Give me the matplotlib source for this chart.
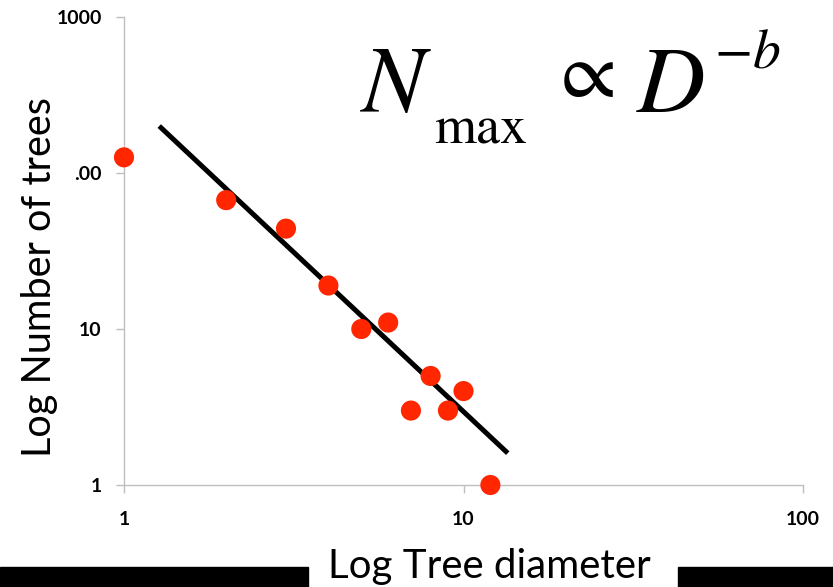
import matplotlib
matplotlib.use('Agg')
import matplotlib.pyplot as plt
from matplotlib.patches import Rectangle

# tree diameter vs number of trees
diameter = [1, 2, 3, 4, 5, 6, 7, 8, 9, 10, 12]
n_trees = [126, 67, 44, 19, 10, 11, 3, 5, 3, 4, 1]

# fitted power-law line, end points
fit_x = [1.27, 13.5]
fit_y = [200, 1.6]

x_ticks = [1, 10, 100]
x_tick_labels = ['1', '10', '100']
y_ticks = [1, 10, 100, 1000]
y_tick_labels = ['1', '10', '.00', '1000']

AXIS_GREY = '#BFBFBF'
DOT_RED = '#FF2600'
LABEL_FONT = ['Lato', 'DejaVu Sans']


def px(x, y):
    """pixel position in the 833x587 picture -> figure fraction"""
    return x / 833, 1 - y / 587


def main():
    plt.rcParams['mathtext.fontset'] = 'stix'
    fig = plt.figure(figsize=(8.33, 5.87), dpi=100)
    ax = fig.add_axes([124 / 833, 1 - 485 / 587, (803 - 124) / 833, (485 - 17) / 587])

    ax.set_xscale('log')
    ax.set_yscale('log')
    ax.set_xlim(1, 100)
    ax.set_ylim(1, 1000)

    ax.plot(fit_x, fit_y, color='black', linewidth=3.6, solid_capstyle='butt', zorder=2)
    ax.scatter(diameter, n_trees, s=210, color=DOT_RED, edgecolors='none', zorder=3, clip_on=False)

    for side in ['top', 'right']:
        ax.spines[side].set_visible(False)
    for side in ['left', 'bottom']:
        ax.spines[side].set_color(AXIS_GREY)
        ax.spines[side].set_linewidth(1.0)

    ax.minorticks_off()
    ax.set_xticks(x_ticks)
    ax.set_xticklabels(x_tick_labels)
    ax.set_yticks(y_ticks)
    ax.set_yticklabels(y_tick_labels)
    ax.tick_params(axis='both', direction='out', length=6, width=1, color=AXIS_GREY,
                   labelsize=14)
    ax.tick_params(axis='x', pad=13)
    ax.tick_params(axis='y', pad=10)
    for lbl in ax.get_xticklabels() + ax.get_yticklabels():
        lbl.set_fontfamily(LABEL_FONT)
        lbl.set_fontweight('bold')

    fig.text(*px(40, 277), 'Log Number of trees', rotation=90,
             ha='center', va='center', fontsize=28.5, family=LABEL_FONT)

    # black bars at the bottom with the x label sitting in the gap
    fig.patches.append(Rectangle((0, 0), 308 / 833, 20 / 587, transform=fig.transFigure,
                                 color='black', zorder=1))
    fig.patches.append(Rectangle((678 / 833, 0), 1 - 678 / 833, 20 / 587,
                                 transform=fig.transFigure, color='black', zorder=1))
    fig.text(*px(489, 578), 'Log Tree diameter', ha='center', va='baseline',
             fontsize=29, family=LABEL_FONT)

    # N_max ∝ D^-b, pieces placed one by one
    fig.text(*px(360, 112), r'$N$', ha='left', va='baseline', fontsize=68)
    fig.text(*px(434, 143), 'max', ha='left', va='baseline', fontsize=39, family='STIXGeneral')
    fig.text(*px(588, 97), '\u221d', ha='center', va='baseline', fontsize=58, family='STIXGeneral')
    fig.text(*px(636, 112), r'$D$', ha='left', va='baseline', fontsize=68)
    fig.text(*px(714, 68), r'$-b$', ha='left', va='baseline', fontsize=40)

    fig.savefig('out.png', dpi=100)


if __name__ == "__main__":
    main()
